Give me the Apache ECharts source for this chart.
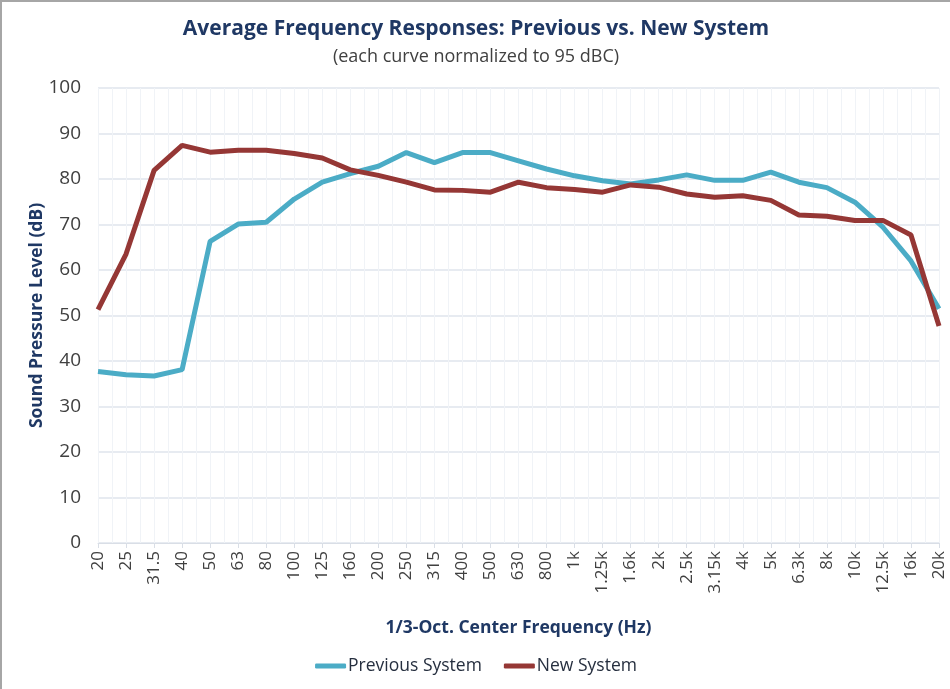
<!DOCTYPE html>
<html>
<head>
<meta charset="utf-8">
<script src="https://cdn.jsdelivr.net/npm/echarts@6/dist/echarts.min.js"></script>
<style>
  html, body { margin: 0; padding: 0; background: #fff; }
  #chart { width: 950px; height: 689px; box-sizing: border-box; border: 2px solid #a6a6a6; border-right: none; border-bottom: none; }
</style>
</head>
<body>
<div id="chart"></div>
<script>
const frequencies = ['20', '25', '31.5', '40', '50', '63', '80', '100', '125', '160', '200', '250', '315', '400', '500',
  '630', '800', '1k', '1.25k', '1.6k', '2k', '2.5k', '3.15k', '4k', '5k', '6.3k', '8k', '10k', '12.5k', '16k', '20k']
const previousSystem = [37.7, 37.0, 36.7, 38.1, 66.3, 70.1, 70.5, 75.6, 79.3, 81.2, 82.8, 85.8, 83.6, 85.8, 85.8,
  84.0, 82.2, 80.7, 79.6, 78.9, 79.8, 80.9, 79.7, 79.7, 81.5, 79.3, 78.1, 74.9, 69.4, 62.0, 51.5]
const newSystem = [51.3, 63.5, 81.9, 87.4, 85.9, 86.3, 86.3, 85.6, 84.6, 82.0, 80.8, 79.3, 77.6, 77.5, 77.1,
  79.3, 78.1, 77.7, 77.1, 78.7, 78.2, 76.7, 76.0, 76.3, 75.3, 72.1, 71.8, 70.9, 70.9, 67.7, 47.7]

const font = '"Open Sans", "Noto Sans", sans-serif'
const navy = '#1f3864'

const chart = echarts.init(document.getElementById('chart'))
chart.setOption({
  animation: false,
  textStyle: { fontFamily: font },
  title: {
    text: 'Average Frequency Responses: Previous vs. New System',
    subtext: '(each curve normalized to 95 dBC)',
    left: 'center',
    top: 12,
    itemGap: 8,
    textStyle: { fontSize: 21, fontWeight: 'bold', color: navy, fontFamily: font },
    subtextStyle: { fontSize: 18, color: '#404040', fontFamily: font }
  },
  legend: {
    bottom: 9,
    left: 'center',
    itemWidth: 31,
    itemHeight: 5,
    itemGap: 22,
    icon: 'roundRect',
    textStyle: { fontSize: 17.5, color: '#262f3f', fontFamily: font, padding: [0, 0, 0, -3] },
    data: ['Previous System', 'New System']
  },
  grid: { left: 96, right: 11, top: 86, bottom: 146 },
  xAxis: [{
    type: 'category',
    data: frequencies,
    boundaryGap: false,
    name: '1/3-Oct. Center Frequency (Hz)',
    nameLocation: 'middle',
    nameGap: 76,
    nameTextStyle: { fontSize: 17.5, fontWeight: 'bold', color: navy },
    axisLine: { lineStyle: { color: '#d9dee6' } },
    axisTick: { show: true, alignWithLabel: true, length: 5, lineStyle: { color: '#d9dee6' } },
    axisLabel: { rotate: 90, fontSize: 17, color: '#404040', interval: 0, margin: 8 },
    splitLine: { show: false }
  }, {
    type: 'value',
    min: 0,
    max: 30,
    interval: 0.5,
    position: 'bottom',
    show: true,
    axisLine: { show: false },
    axisTick: { show: false },
    axisLabel: { show: false },
    splitLine: { show: true, lineStyle: { color: '#f0f3f7', width: 1 } }
  }],
  yAxis: {
    type: 'value',
    min: 0,
    max: 100,
    interval: 10,
    name: 'Sound Pressure Level (dB)',
    nameLocation: 'middle',
    nameGap: 52,
    nameMoveOverlap: false,
    nameTextStyle: { fontSize: 17.5, fontWeight: 'bold', color: navy },
    axisLine: { show: false },
    axisTick: { show: false },
    axisLabel: { fontSize: 19, color: '#404040', margin: 17 },
    splitLine: { lineStyle: { color: '#dfe5ec', width: 1.5 } }
  },
  series: [{
    name: 'Previous System',
    type: 'line',
    data: previousSystem,
    symbol: 'none',
    z: 3,
    lineStyle: { width: 5, color: '#4bacc6' },
    itemStyle: { color: '#4bacc6' }
  }, {
    name: 'New System',
    type: 'line',
    data: newSystem,
    symbol: 'none',
    z: 4,
    lineStyle: { width: 5, color: '#953735' },
    itemStyle: { color: '#953735' }
  }]
})
</script>
</body>
</html>
